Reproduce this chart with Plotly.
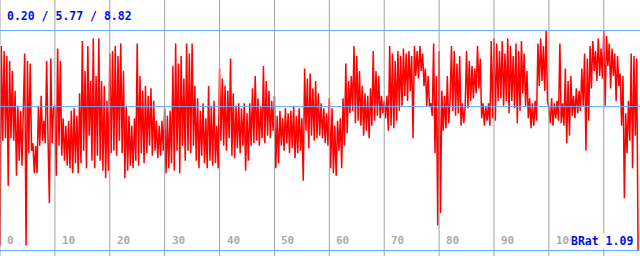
import plotly.graph_objects as go

# sample spacing on the x axis (units per sample)
STEP = 0.25

signal = [
    # 0-10
    0.2, 8.2, 4.4, 8.0, 4.5, 7.8, 2.6, 7.6, 4.5, 7.2,
    4.4, 6.4, 3.0, 5.8, 3.6, 5.6, 3.4, 5.2, 7.9, 0.2,
    7.6, 3.9, 7.5, 4.0, 4.3, 3.1, 4.2, 3.1, 5.8, 4.2,
    6.2, 4.4, 5.2, 4.3, 7.6, 4.5, 1.9, 7.7, 4.3, 5.7,
    # 10-20
    5.8, 3.0, 8.1, 4.2, 7.6, 3.8, 5.3, 3.6, 5.0, 3.4,
    5.2, 3.3, 5.6, 3.1, 5.7, 3.5, 5.4, 3.1, 6.3, 3.5,
    8.4, 4.0, 7.2, 3.3, 8.2, 4.6, 6.8, 3.6, 8.5, 3.3,
    7.0, 3.8, 8.5, 3.6, 6.8, 3.2, 6.6, 2.9, 6.0, 3.2,
    # 20-30
    7.9, 3.9, 8.0, 4.0, 8.2, 3.8, 7.8, 4.4, 8.3, 3.9,
    7.2, 2.9, 5.8, 3.2, 5.4, 3.4, 5.0, 3.3, 5.3, 3.6,
    8.3, 3.4, 7.0, 3.9, 6.4, 3.5, 6.6, 3.9, 6.2, 4.2,
    6.5, 3.8, 6.0, 4.0, 5.2, 3.7, 5.0, 3.8, 5.2, 4.0,
    # 30-40
    5.7, 3.1, 5.4, 3.3, 5.6, 3.5, 7.4, 3.2, 8.3, 4.0,
    7.5, 3.1, 7.8, 4.2, 6.9, 3.6, 8.3, 4.0, 7.9, 3.9,
    8.3, 4.2, 6.6, 3.6, 6.1, 3.3, 5.6, 3.8, 5.9, 3.5,
    5.3, 3.3, 6.6, 3.6, 5.8, 3.4, 6.0, 3.5, 5.0, 3.3,
    # 40-50
    7.3, 4.4, 6.9, 4.2, 6.6, 4.0, 6.4, 4.5, 7.7, 3.8,
    6.3, 3.7, 5.8, 4.1, 5.9, 3.9, 5.7, 4.2, 5.9, 3.2,
    5.5, 3.6, 5.9, 4.2, 6.5, 4.3, 7.0, 4.4, 6.1, 4.2,
    5.8, 4.5, 7.4, 4.3, 6.8, 4.6, 6.4, 4.5, 6.0, 4.8,
    # 50-60
    6.2, 3.3, 5.4, 3.5, 5.6, 4.2, 5.3, 4.0, 5.7, 4.3,
    5.5, 3.9, 5.6, 4.1, 5.8, 3.7, 5.4, 3.9, 5.7, 4.0,
    5.3, 2.8, 7.3, 4.8, 6.9, 4.1, 7.1, 4.6, 6.5, 4.4,
    6.8, 4.5, 6.3, 4.6, 5.9, 4.5, 5.7, 4.3, 5.5, 4.2,
    # 60-70
    6.1, 3.3, 5.7, 3.1, 5.0, 3.0, 5.2, 4.0, 5.3, 3.3,
    6.1, 4.2, 7.5, 4.7, 6.8, 5.5, 7.0, 5.6, 8.2, 5.1,
    7.8, 5.2, 7.2, 5.0, 6.6, 4.6, 6.3, 4.8, 6.2, 4.5,
    6.5, 5.0, 8.0, 5.2, 7.2, 5.4, 7.0, 5.3, 6.2, 5.5,
    # 70-80
    6.0, 5.3, 6.2, 4.8, 8.2, 5.0, 7.9, 4.9, 7.6, 5.2,
    8.0, 5.6, 7.8, 5.8, 8.1, 6.2, 7.9, 6.0, 8.0, 6.4,
    7.8, 4.5, 8.2, 7.0, 8.0, 6.9, 8.2, 7.2, 7.9, 6.6,
    7.3, 5.8, 7.0, 5.8, 5.9, 5.4, 8.3, 3.9, 7.0, 1.0,
    # 80-90
    8.0, 1.5, 6.4, 4.8, 6.2, 4.9, 7.0, 5.1, 6.0, 8.2,
    5.6, 8.0, 5.4, 7.5, 5.5, 7.8, 5.0, 5.9, 5.1, 5.8,
    8.0, 5.7, 7.6, 6.0, 7.4, 6.1, 7.3, 6.3, 8.2, 6.5,
    7.7, 5.3, 5.9, 5.0, 5.8, 5.2, 5.9, 5.0, 8.4, 5.3,
    # 90-100
    8.5, 5.2, 8.3, 6.0, 8.0, 6.1, 8.4, 5.8, 7.9, 6.0,
    8.5, 5.5, 8.2, 6.0, 7.8, 5.7, 8.3, 5.1, 8.0, 5.6,
    8.4, 6.3, 7.9, 5.8, 7.2, 5.3, 6.1, 4.9, 5.9, 5.0,
    6.0, 5.2, 8.3, 6.6, 8.5, 6.8, 8.2, 6.4, 8.82, 6.0,
    # 100-110
    5.7, 5.1, 6.1, 5.0, 5.9, 5.3, 6.0, 5.2, 8.3, 5.1,
    5.9, 5.0, 7.3, 4.3, 6.8, 4.6, 7.0, 5.4, 6.2, 5.3,
    6.5, 5.5, 6.4, 5.6, 7.3, 5.8, 7.9, 4.0, 7.7, 5.2,
    8.2, 6.5, 8.4, 7.2, 8.0, 6.8, 8.5, 7.0, 8.1, 6.9,
    # 110-116.5
    8.8, 5.8, 8.6, 7.4, 8.3, 6.5, 8.1, 7.0, 7.9, 6.0,
    7.8, 6.6, 7.1, 5.0, 7.0, 2.1, 5.5, 3.9, 6.0, 4.4,
    7.9, 3.3, 7.8, 4.6, 7.7, 0.0,
]

stat_min, stat_avg, stat_max = 0.20, 5.77, 8.82
ref_lines = [0.0, stat_avg, stat_max]
grid_vals = [0, 10, 20, 30, 40, 50, 60, 70, 80, 90, 100, 110]
label_vals = [0, 10, 20, 30, 40, 50, 60, 70, 80, 90, 100]
label_text = ["0", "10", "20", "30", "40", "50", "60", "70", "80", "90", "100"]
header_text = "0.20 / 5.77 / 8.82"
ratio_text = "BRat 1.09"

X_MAX = 116.6
Y_RANGE = [-0.2205, 10.044]

xs = [i * STEP for i in range(len(signal))]

fig = go.Figure()
fig.add_trace(go.Scatter(
    x=xs, y=signal, mode="lines",
    line=dict(color="#ff0000", width=1.5),
    hoverinfo="skip", showlegend=False,
))

shapes = []
for tv in grid_vals:
    shapes.append(dict(type="line", xref="x", yref="paper", x0=tv, x1=tv, y0=0, y1=1,
                       line=dict(color="#a0a0a0", width=1), layer="above"))
for rv in ref_lines:
    shapes.append(dict(type="line", xref="paper", yref="y", x0=0, x1=1, y0=rv, y1=rv,
                       line=dict(color="#66aaff", width=1), layer="above"))

annotations = []
mono = "DejaVu Sans Mono, Liberation Mono, monospace"
for tv, tt in zip(label_vals, label_text):
    annotations.append(dict(x=tv, y=0, xref="x", yref="y", text="<b>" + tt + "</b>",
                            showarrow=False, xanchor="left", yanchor="bottom",
                            xshift=5, yshift=2,
                            font=dict(family=mono, size=11, color="#aaaaaa")))
annotations.append(dict(x=0, y=1, xref="paper", yref="paper", text="<b>" + header_text + "</b>",
                        showarrow=False, xanchor="left", yanchor="top", xshift=5, yshift=-7,
                        font=dict(family=mono, size=11.5, color="#0010e8")))
annotations.append(dict(x=1, y=0, xref="paper", yref="paper", text="<b>" + ratio_text + "</b>",
                        showarrow=False, xanchor="right", yanchor="bottom", xshift=-6, yshift=7,
                        bgcolor="#ffffff", borderpad=0,
                        font=dict(family=mono, size=11.5, color="#0010e8")))

fig.update_layout(
    width=640, height=256,
    margin=dict(l=0, r=0, t=0, b=0),
    paper_bgcolor="#ffffff", plot_bgcolor="#ffffff",
    xaxis=dict(range=[0, X_MAX], showgrid=False, zeroline=False, showticklabels=False,
               showline=False, ticks=""),
    yaxis=dict(range=Y_RANGE, showgrid=False, zeroline=False, showticklabels=False,
               showline=False, ticks=""),
    shapes=shapes,
    annotations=annotations,
)

fig.write_html("out.html", config={"displayModeBar": False})
